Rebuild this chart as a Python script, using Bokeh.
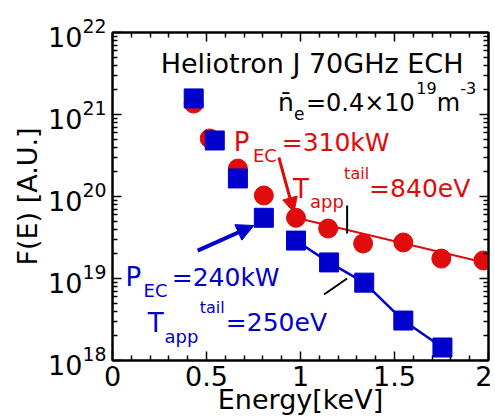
from bokeh.plotting import figure
from bokeh.models import (LinearAxis, LogAxis, FixedTicker, Label, Arrow,
                          NormalHead, Range1d, CustomJSTickFormatter)
from bokeh.embed import file_html
from bokeh.resources import INLINE

# ---------------- data ----------------
red_energy = [0.432, 0.517, 0.667, 0.805, 0.976, 1.147, 1.333, 1.547, 1.749, 1.973]
red_f = [1.36e21, 5.1e20, 2.19e20, 1.03e20, 5.5e19, 4.07e19, 2.67e19, 2.75e19, 1.75e19, 1.66e19]
blue_energy = [0.432, 0.544, 0.667, 0.805, 0.976, 1.152, 1.339, 1.547, 1.755]
blue_f = [1.57e21, 4.82e20, 1.66e20, 5.5e19, 2.9e19, 1.57e19, 8.9e18, 3.07e18, 1.44e18]
red_fit_energy = [0.976, 2.0]
red_fit_f = [5.5e19, 1.52e19]
blue_fit_energy = blue_energy[4:]
blue_fit_f = blue_f[4:]
x_ticks = [0, 0.5, 1, 1.5, 2]
x_tick_labels = ["0", "0.5", "1", "1.5", "2"]
y_ticks = [1e18, 1e19, 1e20, 1e21, 1e22]

RED = "#e00b0b"
BLUE = "#0000cc"
FONT = "DejaVu Sans"

x_minor = [i / 10 for i in range(1, 20) if i % 5]
y_minor = [m * 10.0 ** e for e in range(18, 22) for m in range(2, 10)]

p = figure(width=492, height=418, x_range=Range1d(0, 2), y_range=Range1d(1e18, 1e22),
           y_axis_type="log", output_backend="svg", toolbar_location=None,
           min_border_left=112, min_border_right=4, min_border_top=32, min_border_bottom=58)
p.grid.visible = False
p.outline_line_color = "black"
p.outline_line_width = 2
p.background_fill_color = "white"
p.border_fill_color = "white"


def style(ax, labels=True):
    ax.axis_line_color = "black"
    ax.axis_line_width = 2
    ax.major_tick_in = 9
    ax.major_tick_out = 0
    ax.minor_tick_in = 5
    ax.minor_tick_out = 0
    ax.major_tick_line_color = "black"
    ax.minor_tick_line_color = "black"
    ax.major_tick_line_width = 1.5
    ax.minor_tick_line_width = 1.5
    ax.major_label_text_font = FONT
    ax.major_label_text_color = "black"
    if labels:
        ax.major_label_text_font_size = "27px"
    else:
        ax.formatter = CustomJSTickFormatter(code="return ''")
        ax.major_label_text_font_size = "1px"
        ax.major_label_standoff = 0


xax = p.xaxis[0]
xax.ticker = FixedTicker(ticks=x_ticks, minor_ticks=x_minor)
xax.major_label_overrides = {t: s for t, s in zip(x_ticks, x_tick_labels)}
style(xax)
xax.major_label_standoff = 5
xax.axis_label = "Energy[keV]"
xax.axis_label_text_font = FONT
xax.axis_label_text_font_size = "27px"
xax.axis_label_text_font_style = "normal"
xax.axis_label_text_color = "black"
xax.axis_label_standoff = -5

yax = p.yaxis[0]
yax.ticker = FixedTicker(ticks=y_ticks, minor_ticks=y_minor)
style(yax)
yax.major_label_standoff = 6
yax.axis_label = "F(E) [A.U.]"
yax.axis_label_text_font = FONT
yax.axis_label_text_font_size = "27px"
yax.axis_label_text_font_style = "normal"
yax.axis_label_text_color = "black"
yax.axis_label_standoff = 2

top = LinearAxis(ticker=FixedTicker(ticks=x_ticks, minor_ticks=x_minor))
style(top, labels=False)
p.add_layout(top, "above")
right = LogAxis(ticker=FixedTicker(ticks=y_ticks, minor_ticks=y_minor))
style(right, labels=False)
p.add_layout(right, "right")

# ---------------- data marks ----------------
p.line(red_fit_energy, red_fit_f, line_color=RED, line_width=2)
p.line(blue_fit_energy, blue_fit_f, line_color=BLUE, line_width=2.5)
p.scatter(red_energy, red_f, marker="circle", size=19, fill_color=RED, line_color=RED)
p.scatter(blue_energy, blue_f, marker="square", size=19, fill_color=BLUE, line_color=BLUE)


# ---------------- annotations ----------------
def lab(x, y, text, color, size, align="left"):
    p.add_layout(Label(x=x, y=y, text=text, text_color=color, text_font=FONT,
                       text_font_size=f"{size}px", text_align=align,
                       text_baseline="alphabetic"))


lab(1.867, 4.19e21, "Heliotron J 70GHz ECH", "black", 27, align="right")
lab(0.88, 1.40e21, "n\u0304", "black", 25)
lab(0.965, 1.03e21, "e", "black", 17)
lab(1.029, 1.40e21, "=0.4\u00d710", "black", 24)
lab(1.616, 2.08e21, "19", "black", 16)
lab(1.725, 1.40e21, "m", "black", 24)
lab(1.850, 2.08e21, "-3", "black", 16)

lab(0.645, 4.56e20, "P", RED, 26)
lab(0.747, 3.16e20, "EC", RED, 18)
lab(0.900, 4.56e20, "=310kW", RED, 25)
lab(0.96, 1.25e20, "T", RED, 26)
lab(1.051, 8.7e19, "app", RED, 18)
lab(1.232, 1.91e20, "tail", RED, 16)
lab(1.365, 1.25e20, "=840eV", RED, 25)

lab(0.069, 1.03e19, "P", BLUE, 26)
lab(0.165, 7.14e18, "EC", BLUE, 18)
lab(0.315, 1.03e19, "=240kW", BLUE, 25)
lab(0.187, 2.9e18, "T", BLUE, 26)
lab(0.277, 1.96e18, "app", BLUE, 18)
lab(0.464, 4.43e18, "tail", BLUE, 16)
lab(0.603, 2.9e18, "=250eV", BLUE, 25)

p.add_layout(Arrow(end=NormalHead(size=15, fill_color=RED, line_color=RED),
                   x_start=0.885, y_start=2.99e20, x_end=0.965, y_end=6.38e19,
                   line_color=RED, line_width=3))
p.add_layout(Arrow(end=NormalHead(size=17, fill_color=BLUE, line_color=BLUE),
                   x_start=0.453, y_start=2.19e19, x_end=0.752, y_end=4.43e19,
                   line_color=BLUE, line_width=4))
p.add_layout(Arrow(end=None, x_start=1.248, y_start=7.77e19, x_end=1.248, y_end=3.54e19,
                   line_color="black", line_width=2))
p.add_layout(Arrow(end=None, x_start=1.125, y_start=6.38e18, x_end=1.248, y_end=1.0e19,
                   line_color="black", line_width=2))

open("out.html", "w").write(file_html(p, INLINE))
